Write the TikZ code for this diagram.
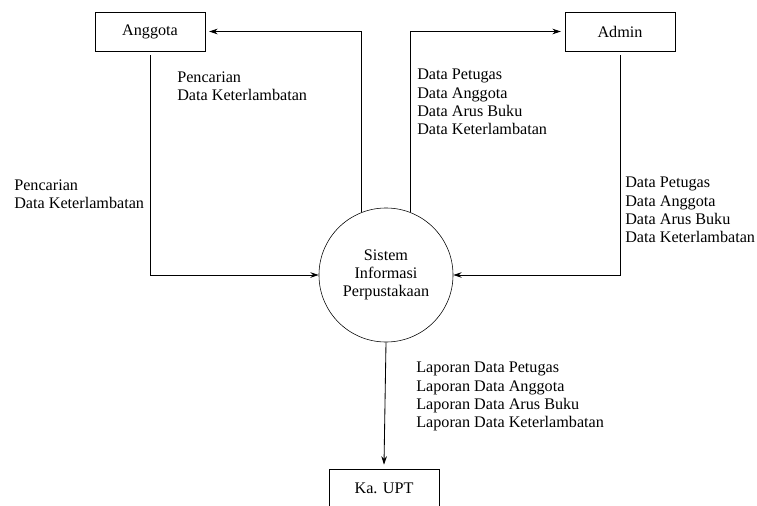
\documentclass[tikz,border=0pt]{standalone}
\usepackage{fontspec}
\setmainfont{Liberation Serif}
\usetikzlibrary{arrows.meta}
\tikzstyle{entity} = [rectangle, minimum width=2.75cm, minimum height=0.98cm, text centered, draw=black, outer sep=3pt]
\tikzstyle{process} = [circle, minimum size=3.35cm, inner sep=0pt, align=center, draw=black]
\tikzstyle{flowlabel} = [align=left, anchor=base west, inner sep=0pt]
\tikzstyle{arrow} = [line width=0.6pt,->,>={Stealth[length=6pt,width=4pt]}]

\begin{document}
\begin{tikzpicture}[x=0.025cm, y=-0.025cm, font=\fontsize{11.5}{13}\selectfont]
    \useasboundingbox (0,0) rectangle (757,506);
    % Flow nodes
    \node (anggota) [entity] at (150,31.5) {Anggota};
    \node (admin) [entity] at (620,31.5) {Admin};
    \node (sistem) [process] at (386,275) {Sistem\\Informasi\\Perpustakaan};
    \node (kaupt) [entity] at (384,488.5) {Ka. UPT};

    % Labels (placed at the baseline of their last line)
    \node (cariatas) [flowlabel] at (177,100.3) {Pencarian\\Data Keterlambatan};
    \node (carikiri) [flowlabel] at (14,208.3) {Pencarian\\Data Keterlambatan};
    \node (dataatas) [flowlabel] at (417,134.8) {Data Petugas\\Data Anggota\\Data Arus Buku\\Data Keterlambatan};
    \node (datakanan) [flowlabel] at (625,242.8) {Data Petugas\\Data Anggota\\Data Arus Buku\\Data Keterlambatan};
    \node (laporan) [flowlabel] at (416,427.8) {Laporan Data Petugas\\Laporan Data Anggota\\Laporan Data Arus Buku\\Laporan Data Keterlambatan};

    % Arrows
    \draw [arrow] (anggota.south) |- (sistem.west);
    \draw [arrow] (sistem.111) |- (anggota.east);
    \draw [arrow] (sistem.69) |- (admin.west);
    \draw [arrow] (admin.south) |- (sistem.east);
    \draw [arrow] (sistem.south) -- (kaupt.north);
\end{tikzpicture}
\end{document}
